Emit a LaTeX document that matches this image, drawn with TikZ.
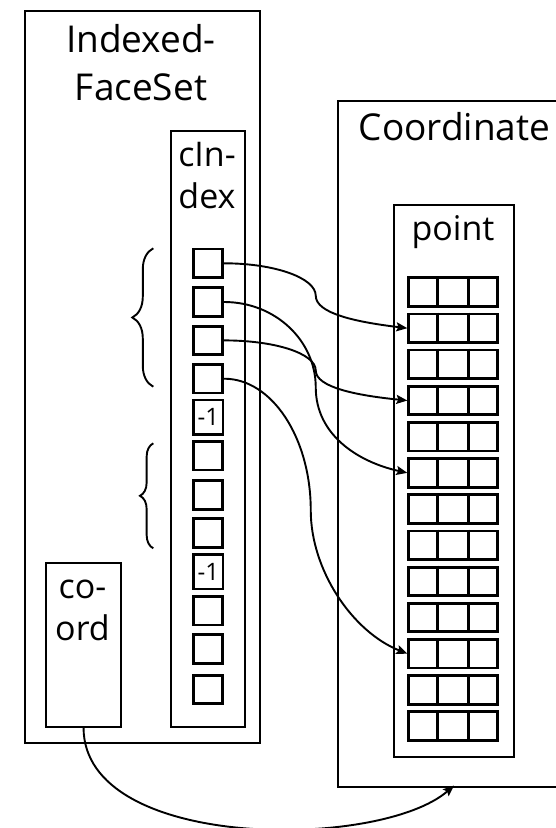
\documentclass[tikz,border=0pt]{standalone}
\usepackage{fontspec}
\setmainfont{Open Sans}
\usetikzlibrary{arrows.meta,decorations.pathreplacing,calc}
\begin{document}
\begin{tikzpicture}[x=1pt,y=-1pt,
  box/.style={draw, line width=2.1pt, inner sep=0pt, anchor=north west},
  cell/.style={draw, line width=2.8pt, inner sep=0pt, minimum width=29.5pt, minimum height=28.5pt},
  neg/.style={cell, minimum height=34.5pt, font=\fontsize{24}{28}\selectfont},
  gridrow/.style={draw, line width=2.8pt, inner sep=0pt, minimum width=88.5pt, minimum height=28.5pt},
  bigtxt/.style={font=\fontsize{37}{48}\selectfont, align=center, inner sep=0pt, anchor=base},
  midtxt/.style={font=\fontsize{34}{42}\selectfont, align=center, inner sep=0pt, anchor=base},
  link/.style={line width=1.9pt, -{Stealth[length=11pt,width=9pt,inset=2pt]}},
  bracestyle/.style={line width=1.9pt, decorate, decoration={brace, amplitude=#1}}
]
\clip (0,0) rectangle (556,828);

% outer boxes
\node[box, minimum width=235pt, minimum height=731.7pt] (ifs) at (23.5,9.8) {};
\node[box, minimum width=236pt, minimum height=685.7pt] (crd) at (337,99.8) {};
\node[box, minimum width=74.5pt, minimum height=596pt] (cix) at (169.5,129.5) {};
\node[box, minimum width=75pt, minimum height=163.8pt] (cd) at (45,561.7) {};
\node[box, minimum width=120pt, minimum height=552.5pt] (pt) at (393,203.5) {};

% labels (anchor base = baseline of the last line)
\node[bigtxt] (ifsT) at (141,100) {Indexed-\\FaceSet};
\node[bigtxt] (crdT) at (454.5,140) {Coordinate};
\node[midtxt] (cixT) at (207,208) {cIn-\\dex};
\node[midtxt] (ptT) at (453,240) {point};
\node[midtxt] (cdT) at (82.5,640.7) {co-\\ord};

% coordIndex entries
\node[cell] (s1) at (208,263.3) {};
\node[cell] (s2) at (208,302) {};
\node[cell] (s3) at (208,340.4) {};
\node[cell] (s4) at (208,378.7) {};
\node[neg]  (n1) at (208.3,417.2) {-1};
\node[cell] (s5) at (208,455.7) {};
\node[cell] (s6) at (208,495) {};
\node[cell] (s7) at (208,533) {};
\node[neg]  (n2) at (208.3,571.7) {-1};
\node[cell] (s8) at (208,610.7) {};
\node[cell] (s9) at (208,649) {};
\node[cell] (s10) at (208,689.5) {};

% point rows
\foreach \i in {1,...,13}{
  \node[gridrow] (r\i) at (453,{292+36.17*(\i-1)}) {};
  \draw[line width=2.8pt] ($(r\i.north west)!1/3!(r\i.north east)$) -- ($(r\i.south west)!1/3!(r\i.south east)$);
  \draw[line width=2.8pt] ($(r\i.north west)!2/3!(r\i.north east)$) -- ($(r\i.south west)!2/3!(r\i.south east)$);
}

% braces
\draw[bracestyle=21] (153.3,386.7) -- (153.3,248.3);
\draw[bracestyle=13.3] (153.3,548.3) -- (153.3,443.3);

% links
\coordinate (k1) at ($(s1.east)!0.5!(r2.west)$);
\coordinate (k2) at ($(s2.east)!0.5!(r6.west)$);
\coordinate (k3) at ($(s3.east)!0.5!(r4.west)$);
\coordinate (k4) at ($(s4.east)!0.5!(r11.west)+(-5,-6)$);
\draw[link] (s1.east) .. controls +(50,0) and +(0,-18) .. (k1) .. controls +(0,18) and +(-50,-6) .. (r2.west);
\draw[link] (s2.east) .. controls +(51,0) and +(0,-47) .. (k2) .. controls +(0,47) and +(-50,-11) .. (r6.west);
\draw[link] (s3.east) .. controls +(51,0) and +(0,-17) .. (k3) .. controls +(0,17) and +(-50,-5) .. (r4.west);
\draw[link] (s4.east) .. controls +(48,0) and +(0,-72) .. (k4) .. controls +(0,60) and +(-55,-22) .. (r11.west);

\coordinate (cin) at (454,785.5);
\draw[link] (cd.south) .. controls +(0,124) and +(-74,64.5) .. (cin);
\end{tikzpicture}
\end{document}
